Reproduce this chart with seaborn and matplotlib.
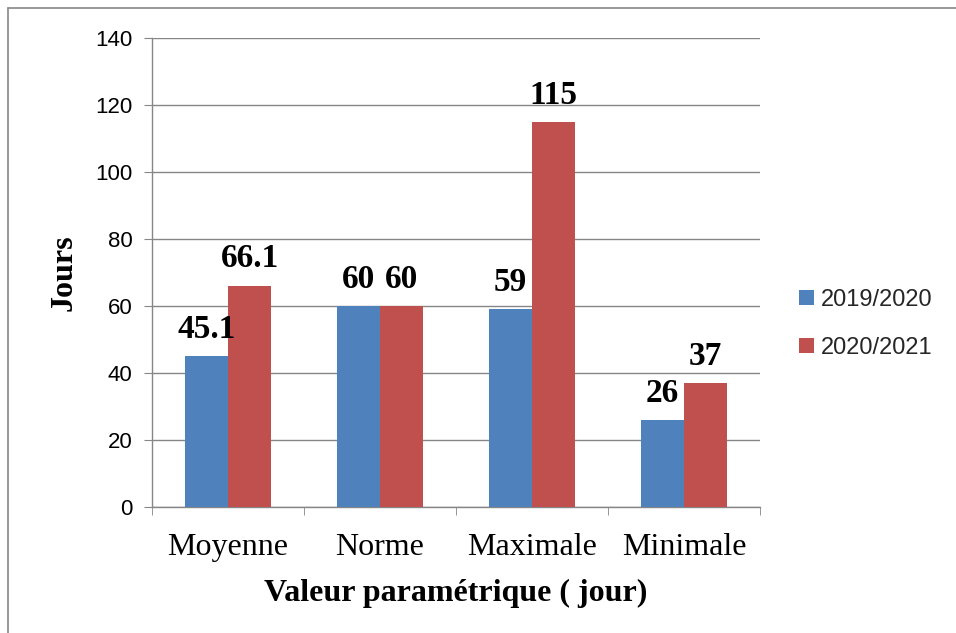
import pandas as pd
import matplotlib.pyplot as plt
import seaborn as sns
from matplotlib.lines import Line2D

# Data
categories = ["Moyenne", "Norme", "Maximale", "Minimale"]
season_2019 = [45.1, 60, 59, 26]
season_2020 = [66.1, 60, 115, 37]
series_names = ["2019/2020", "2020/2021"]
value_labels_2019 = ["45.1", "60", "59", "26"]
value_labels_2020 = ["66.1", "60", "115", "37"]

df = pd.DataFrame({
    "categorie": categories * 2,
    "jours": season_2019 + season_2020,
    "saison": [series_names[0]] * 4 + [series_names[1]] * 4,
})

sns.set_style("white")
plt.rcParams["font.family"] = ["Liberation Sans", "DejaVu Sans"]

fig = plt.figure(figsize=(9.56, 6.33), dpi=100)
ax = fig.add_axes([152 / 956, 1 - 507 / 633, 608 / 956, 469 / 633])

palette = {"2019/2020": "#4F81BD", "2020/2021": "#C0504D"}
sns.barplot(data=df, x="categorie", y="jours", hue="saison", palette=palette,
            width=0.566, saturation=1, ax=ax, zorder=3, linewidth=0)

# value labels
serif = ["Liberation Serif", "DejaVu Serif"]
for container, labels in zip(ax.containers, [value_labels_2019, value_labels_2020]):
    for bar, lab in zip(container, labels):
        ax.annotate(lab, (bar.get_x() + bar.get_width() / 2, bar.get_height()),
                    xytext=(0, 8), textcoords="offset points", ha="center",
                    va="bottom", fontsize=24, fontweight="bold", family=serif,
                    color="black")

ax.set_ylim(0, 140)
ax.set_yticks(range(0, 141, 20))
ax.set_xlim(-0.5, 3.5)
ax.yaxis.grid(True, color="#868686", linewidth=1)
ax.set_axisbelow(True)

for side in ["top", "right"]:
    ax.spines[side].set_visible(False)
for side in ["left", "bottom"]:
    ax.spines[side].set_color("#868686")
    ax.spines[side].set_linewidth(1)

ax.tick_params(axis="y", direction="out", length=6, color="#868686",
               labelsize=16, labelcolor="black", pad=8, left=True)
ax.tick_params(axis="x", which="major", length=0, pad=19, labelcolor="black")
ax.set_xticks([-0.5, 0.5, 1.5, 2.5, 3.5], minor=True)
ax.tick_params(axis="x", which="minor", direction="out", length=6,
               color="#868686", bottom=True)
for t in ax.get_xticklabels():
    t.set_fontfamily(serif)
    t.set_fontsize(23)

ax.set_xlabel("Valeur paramétrique ( jour)", fontsize=23, fontweight="bold",
              family=serif, labelpad=12, color="black")
ax.set_ylabel("Jours", fontsize=23, fontweight="bold", family=serif,
              labelpad=12, color="black")

ax.legend(loc="center left", bbox_to_anchor=(1.03, 0.39), frameon=False,
          fontsize=17, handlelength=0.6, handleheight=0.6, handletextpad=0.3,
          labelspacing=1.1)

# chart frame
fig.add_artist(Line2D([8 / 956, 8 / 956], [0, 1 - 8 / 633], transform=fig.transFigure,
                      color="#868686", linewidth=1.2))
fig.add_artist(Line2D([8 / 956, 1], [1 - 8 / 633, 1 - 8 / 633], transform=fig.transFigure,
                      color="#868686", linewidth=1.2))

fig.savefig("out.png", dpi=100)
